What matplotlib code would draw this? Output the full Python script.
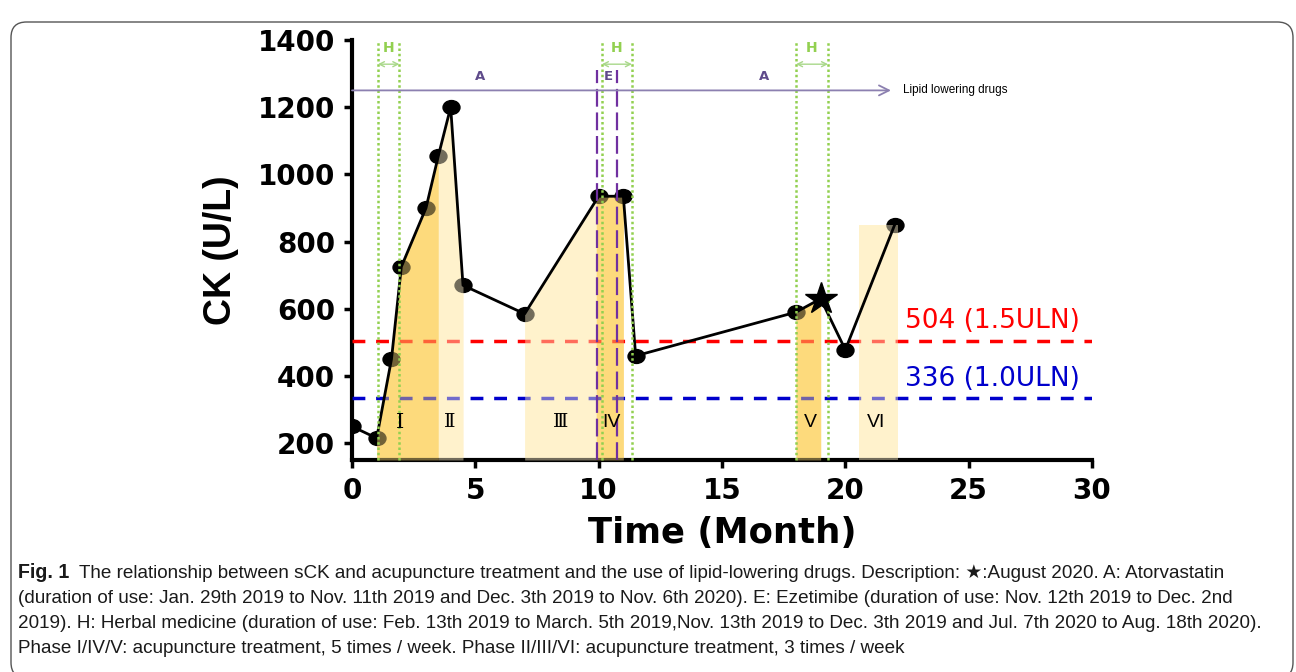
import matplotlib.pyplot as plt
from matplotlib.patches import FancyBboxPatch
from matplotlib.markers import MarkerStyle
from matplotlib.transforms import Affine2D
from matplotlib import font_manager
import numpy as np

# ---- data ----
months = [0, 1, 1.6, 2, 3, 3.5, 4, 4.5, 7, 10, 11, 11.5, 18, 19, 20, 22]
ck = [250, 215, 450, 725, 900, 1055, 1200, 670, 585, 935, 935, 460, 590, 630, 478, 850]
star_idx = 13  # August 2020

uln_values = [504, 336]
uln_labels = ['504 (1.5ULN)', '336 (1.0ULN)']
uln_colors = ['#FF0000', '#0000CC']

# phases
phase_start = [1.0, 3.5, 7.0, 9.9, 18.0, 20.55]
phase_end = [3.5, 4.5, 9.9, 11.0, 19.0, 22.13]
phase_five = [True, False, False, True, True, False]   # 5 times/week -> darker
phase_names = ['Ⅰ', 'Ⅱ', 'Ⅲ', 'IV', 'V', 'VI']
phase_label_x = [1.95, 3.97, 8.45, 10.5, 18.57, 21.25]

herbal_start = [1.05, 10.13, 18.0]
herbal_end = [1.92, 11.35, 19.3]
ezetimibe = [9.93, 10.75]
atorva_end = 21.85
atorva_label_x = [5.2, 16.7]

x_ticks = [0, 5, 10, 15, 20, 25, 30]
y_ticks = [200, 400, 600, 800, 1000, 1200, 1400]

DARK = '#FDDA7C'
LIGHT = '#FFF2CC'
GREEN = '#92D050'
PURPLE = '#7030A0'

fig = plt.figure(figsize=(12.96, 6.72), dpi=100)
ax = fig.add_axes([352 / 1296, 1 - 460 / 672, 740 / 1296, 420 / 672])
ax.set_xlim(0, 30)
ax.set_ylim(150, 1400)

# phase shading: opaque layer under the markers, a tinted layer over them
for s, e, five, name, lx in zip(phase_start, phase_end, phase_five, phase_names, phase_label_x):
    xs = np.linspace(s, e, 60)
    if name == 'VI':
        top = np.full_like(xs, ck[-1])
    else:
        top = np.interp(xs, months, ck)
    col = DARK if five else LIGHT
    ax.fill_between(xs, 150, top, color=col, lw=0, zorder=2)
    ax.fill_between(xs, 150, top, color=col, alpha=0.45, lw=0, zorder=3)
    fam = ['DejaVu Serif'] if name in ('Ⅰ', 'Ⅱ', 'Ⅲ') else ['Liberation Sans']
    size = 15 if name == 'Ⅰ' else 14
    ax.text(lx, 262, name, fontsize=size, family=fam, ha='center', va='center', zorder=7)

# ULN reference lines
for val, lab, col in zip(uln_values, uln_labels, uln_colors):
    ax.axhline(val, color=col, lw=2.5, linestyle=(0, (3.7, 3.1)), zorder=2.6)
    ax.text(22.4, val + (59 if val == 504 else 54), lab, color=col, fontsize=19,
            ha='left', va='center', zorder=7)

# CK curve
ax.plot(months, ck, color='black', lw=2, zorder=4)
ell = MarkerStyle('o', transform=Affine2D().scale(1.22, 1.0))
mx = [m for i, m in enumerate(months) if i != star_idx]
my = [c for i, c in enumerate(ck) if i != star_idx]
ax.plot(mx, my, ls='none', marker=ell, markersize=10, color='black', zorder=2.5)
ax.plot(months[star_idx], ck[star_idx], marker='*', markersize=24, color='black',
        ls='none', zorder=6)

# herbal medicine periods
for s, e in zip(herbal_start, herbal_end):
    for xv in (s, e):
        ax.plot([xv, xv], [150, 1400], color=GREEN, lw=1.8, linestyle=(0, (1, 1.1)),
                zorder=5, clip_on=False)
    ax.annotate('', xy=(e, 1328), xytext=(s, 1328),
                arrowprops=dict(arrowstyle='<->', color='#A9D88A', lw=1, shrinkA=0, shrinkB=0,
                                mutation_scale=9), zorder=5)
    ax.text((s + e) / 2, 1375, 'H', color=GREEN, fontsize=10, fontweight='bold',
            ha='center', va='center')

# ezetimibe
for xv in ezetimibe:
    ax.plot([xv, xv], [150, 1310], color=PURPLE, lw=1.6, linestyle=(0, (8, 2.6)), zorder=5)
ax.text(sum(ezetimibe) / 2 + 0.04, 1292, 'E', color='#5F4B8B', fontsize=9.5,
        fontweight='bold', ha='center', va='center')

# atorvastatin
ax.annotate('', xy=(atorva_end, 1250), xytext=(0, 1250),
            arrowprops=dict(arrowstyle='->', color='#8C80B0', lw=1.3, shrinkA=0, shrinkB=0,
                            mutation_scale=18), zorder=5)
for lx in atorva_label_x:
    ax.text(lx, 1290, 'A', color='#5F4B8B', fontsize=9.5, fontweight='bold',
            ha='center', va='center')
ax.text(atorva_end + 0.5, 1250, 'Lipid lowering drugs', fontsize=8.5, ha='left',
        va='center', family='Liberation Sans')

# axes styling
for side in ('top', 'right'):
    ax.spines[side].set_visible(False)
for side in ('left', 'bottom'):
    ax.spines[side].set_linewidth(3)
ax.tick_params(width=2.5, length=6, direction='out', pad=6)
ax.set_xticks(x_ticks)
ax.set_xticklabels([str(t) for t in x_ticks], fontsize=20, fontweight='bold')
ax.set_yticks(y_ticks)
ax.set_yticklabels([str(t) for t in y_ticks], fontsize=20, fontweight='bold')
ax.set_xlabel('Time (Month)', fontsize=25.5, fontweight='bold', labelpad=8)
ax.set_ylabel('CK (U/L)', fontsize=27, fontweight='bold', family='Liberation Sans',
              labelpad=14)

# ---- caption ----
try:
    font_manager.findfont('Liberation Sans Narrow', fallback_to_default=False)
    cap_family = ['Liberation Sans Narrow', 'DejaVu Sans']
except ValueError:
    cap_family = ['Liberation Sans', 'DejaVu Sans']

cap_lines = [
    'The relationship between sCK and acupuncture treatment and the use of lipid-lowering drugs. '
    'Description: ★:August 2020. A: Atorvastatin',
    '(duration of use: Jan. 29th 2019 to Nov. 11th 2019 and Dec. 3th 2019 to Nov. 6th 2020). '
    'E: Ezetimibe (duration of use: Nov. 12th 2019 to Dec. 2nd',
    '2019). H: Herbal medicine (duration of use: Feb. 13th 2019 to March. 5th 2019,Nov. 13th 2019 '
    'to Dec. 3th 2019 and Jul. 7th 2020 to Aug. 18th 2020).',
    'Phase I/IV/V: acupuncture treatment, 5 times / week. Phase II/III/VI: acupuncture treatment, '
    '3 times / week',
]
cap_y = [578, 603, 628, 653]

r = fig.canvas.get_renderer()
# size the caption font so the longest line spans the same width as in the original
probe = fig.text(0, 0, cap_lines[2], fontsize=12, family=cap_family)
w = probe.get_window_extent(r).width
probe.remove()
cap_size = 12 * 1250 / w

fig_lbl = fig.text(18 / 1296, 1 - 578 / 672, 'Fig. 1', fontsize=cap_size + 0.5,
                   fontweight='bold', family=cap_family, va='baseline', color='#1a1a1a')
x_first = fig_lbl.get_window_extent(r).x1 + 10
cap_x = [x_first, 18, 18, 18]
for txt, cx, cy in zip(cap_lines, cap_x, cap_y):
    fig.text(cx / 1296, 1 - cy / 672, txt, fontsize=cap_size, family=cap_family,
             va='baseline', color='#1a1a1a')

frame = FancyBboxPatch((11 / 1296, -6 / 672), 1282 / 1296, 656 / 672,
                       boxstyle='round,pad=0,rounding_size=0.012',
                       transform=fig.transFigure, facecolor='none', edgecolor='#555555',
                       lw=1.0, mutation_aspect=1296 / 672)
fig.patches.append(frame)

fig.savefig('out.png', dpi=100, facecolor='white')
